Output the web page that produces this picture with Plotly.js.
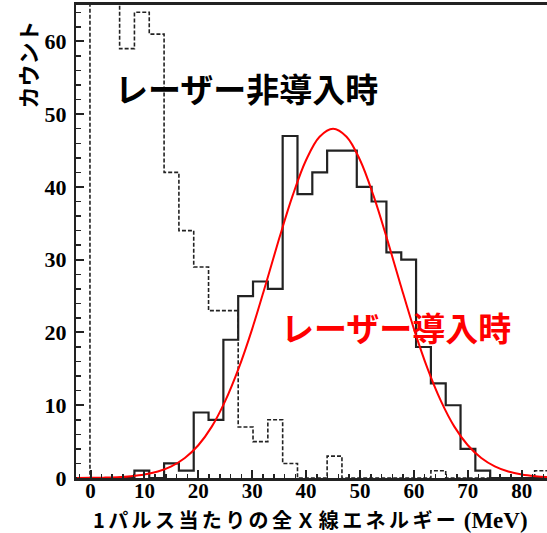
<!DOCTYPE html>
<html><head><meta charset="utf-8">
<script src="https://cdn.plot.ly/plotly-3.0.1.min.js"></script>
<style>html,body{margin:0;padding:0;background:#fff;overflow:hidden}</style>
</head><body><div id="chart" style="width:547px;height:533px"></div>
<script>
// Histogram bin edges (MeV)
const binEdges = [-2.85, -0.1, 2.65, 5.4, 8.15, 10.9, 13.65, 16.4, 19.15, 21.9, 24.65, 27.4, 30.15, 32.9,
  35.65, 38.4, 41.15, 43.9, 46.65, 49.4, 52.15, 54.9, 57.65, 60.4, 63.15, 65.9, 68.65, 71.4, 74.15,
  76.9, 79.65, 82.4, 85.15, 87.9];
// Counts without laser (dashed) — first two bins are off scale
const countsLaserOff = [0, 90, 75, 59, 64, 61, 42, 34, 29, 23, 23, 7, 5, 8, 2, 0, 0, 3, 0, 0, 0, 0, 0, 0,
  1, 0, 0, 0, 0, 0, 0, 1, 0];
// Counts with laser (solid)
const countsLaserOn = [0, 0, 0, 0, 1, 0, 2, 1, 9, 8, 19, 25, 27, 26, 47, 39, 42, 45, 45, 40, 38, 31, 30,
  18, 13, 10, 4, 1, 0, 0, 0, 0, 0];
// Fitted curve (red)
const fitEnergy = [-2.5, 0, 2.5, 5, 7.5, 10, 12.5, 15, 17.5, 20, 22.5, 25, 27.5, 30, 32.5, 35, 37.5, 40,
  42.5, 45, 47.5, 50, 52.5, 55, 57.5, 60, 62.5, 65, 67.5, 70, 72.5, 75, 77.5, 80, 82.5, 85];
const fitCounts = [0.01, 0.02, 0.05, 0.11, 0.24, 0.47, 0.89, 1.6, 2.75, 4.5, 7.06, 10.6, 15.1, 20.5, 26.6,
  32.9, 38.8, 43.7, 46.9, 48.0, 46.9, 43.7, 38.8, 32.9, 26.6, 20.5, 15.1, 10.6, 7.06, 4.5, 2.75, 1.6,
  0.89, 0.47, 0.24, 0.11];
const xTickVals = [0, 10, 20, 30, 40, 50, 60, 70, 80];
const yTickVals = [0, 10, 20, 30, 40, 50, 60];
const labelLaserOff = 'レーザー非導入時';
const labelLaserOn = 'レーザー導入時';
const xTitleJp = '1パルス当たりの全Ｘ線エネルギー';
const xTitleUnit = '(MeV)';
const yTitle = 'カウント';

const jp = 'Noto Sans CJK JP, Noto Sans, sans-serif';
const serif = 'Liberation Serif, DejaVu Serif, serif';

const traces = [
  {x: binEdges, y: countsLaserOff.concat([0]), type: 'scatter', mode: 'lines',
   line: {shape: 'hv', color: '#222', width: 1.6, dash: '4px,2px'}, name: labelLaserOff},
  {x: binEdges, y: countsLaserOn.concat([0]), type: 'scatter', mode: 'lines',
   line: {shape: 'hv', color: '#222', width: 2.2}, name: labelLaserOn},
  {x: fitEnergy, y: fitCounts, type: 'scatter', mode: 'lines',
   line: {shape: 'spline', color: '#ff0000', width: 2}, name: 'fit'}
];

const xTitleText = '<span style="letter-spacing:3.4px">' + xTitleJp + '</span> ' +
  '<span style="font-family:\'Liberation Serif\';font-size:23px">' + xTitleUnit + '</span>';

const layout = {
  width: 547, height: 533, autosize: false,
  margin: {l: 76, r: 0, t: 5, b: 55},
  paper_bgcolor: '#fff', plot_bgcolor: '#fff',
  showlegend: false,
  xaxis: {
    range: [-2.69, 84.69], tickmode: 'array', tickvals: xTickVals,
    ticks: 'inside', ticklen: 8, tickwidth: 2, tickcolor: '#222',
    minor: {tickmode: 'linear', tick0: 0, dtick: 2, ticks: 'inside', ticklen: 4, tickwidth: 1.5, tickcolor: '#222', showgrid: false},
    showline: true, linewidth: 3, linecolor: '#222', mirror: true,
    showgrid: false, zeroline: false,
    tickfont: {family: serif, size: 21, weight: 'bold', color: '#000'},
    ticklabelstandoff: -8
  },
  yaxis: {
    range: [0, 65], tickmode: 'array', tickvals: yTickVals,
    ticks: 'inside', ticklen: 8, tickwidth: 2, tickcolor: '#222',
    minor: {tickmode: 'linear', tick0: 0, dtick: 2, ticks: 'inside', ticklen: 5, tickwidth: 1.5, tickcolor: '#222', showgrid: false},
    showline: true, linewidth: 2, linecolor: '#222', mirror: false,
    showgrid: false, zeroline: false,
    tickfont: {family: serif, size: 22, weight: 'bold', color: '#000'},
    ticklabelstandoff: 3
  },
  annotations: [
    {xref: 'x', yref: 'y', x: 29.0, y: 53.6, text: labelLaserOff, showarrow: false,
     font: {family: jp, size: 33, weight: 'bold', color: '#000'}},
    {xref: 'x', yref: 'y', x: 56.6, y: 20.8, text: labelLaserOn, showarrow: false,
     font: {family: jp, size: 33, weight: 'bold', color: '#ff0000'}},
    {xref: 'paper', yref: 'paper', x: -0.104, y: 0.874, xanchor: 'center', yanchor: 'middle',
     text: yTitle, textangle: -90, showarrow: false,
     font: {family: jp, size: 22, weight: 'bold', color: '#000'}},
    {xref: 'paper', yref: 'paper', x: 0.497, y: -0.0885, xanchor: 'center', yanchor: 'middle',
     text: xTitleText, showarrow: false,
     font: {family: jp, size: 20, weight: 'bold', color: '#000'}}
  ]
};

Plotly.newPlot('chart', traces, layout, {displayModeBar: false, staticPlot: true});
</script>
</body></html>
